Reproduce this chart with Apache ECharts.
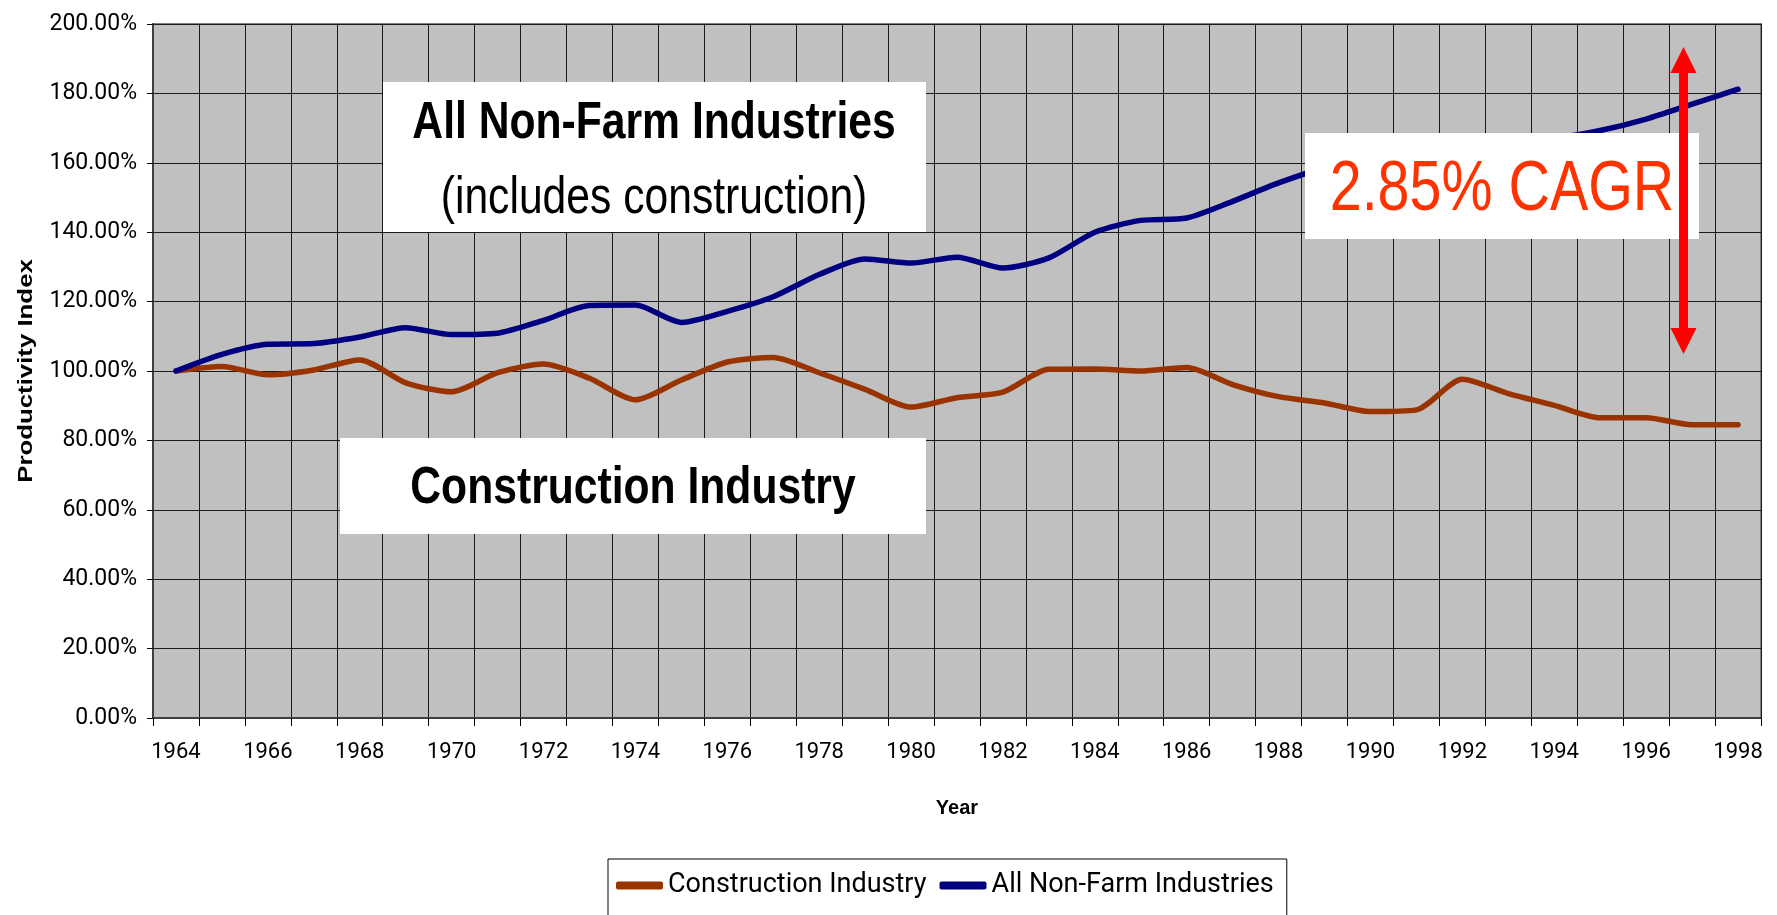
<!DOCTYPE html>
<html>
<head>
<meta charset="utf-8">
<title>Productivity Index</title>
<script src="https://cdn.jsdelivr.net/npm/echarts@6/dist/echarts.min.js"></script>
<style>
    html, body { margin: 0; padding: 0; background: #ffffff; }
    #chart { width: 1777px; height: 915px; }
</style>
</head>
<body>
<div id="chart"></div>
<script>
// Years on the category axis
const years = [
    '1964', '1965', '1966', '1967', '1968', '1969', '1970', '1971', '1972', '1973',
    '1974', '1975', '1976', '1977', '1978', '1979', '1980', '1981', '1982', '1983',
    '1984', '1985', '1986', '1987', '1988', '1989', '1990', '1991', '1992', '1993',
    '1994', '1995', '1996', '1997', '1998'
];

// Productivity index, percent of 1964
const construction = [
    100.0, 101.3, 98.9, 100.3, 103.2, 96.6, 94.0, 99.5, 102.0, 97.9,
    91.7, 97.4, 102.6, 103.9, 99.5, 94.7, 89.6, 92.3, 93.9, 100.5,
    100.6, 100.0, 101.0, 96.1, 92.6, 90.8, 88.3, 88.8, 97.6, 93.5,
    90.1, 86.5, 86.5, 84.5, 84.5
];
const nonFarm = [
    100.0, 104.8, 107.7, 107.9, 109.8, 112.5, 110.5, 110.9, 114.6, 118.9,
    119.0, 114.0, 117.2, 121.4, 127.8, 132.3, 131.1, 132.8, 129.7, 132.6,
    140.0, 143.4, 144.1, 148.9, 154.2, 158.5, 160.0, 161.0, 164.5, 165.5,
    167.0, 169.3, 172.6, 176.9, 181.2
];

// Y axis ticks
const yMin = 0;
const yMax = 200;
const yStep = 20;

const LABEL_FONT = "Roboto, 'Liberation Sans', sans-serif";
const PLAIN = "'Liberation Sans', Arial, sans-serif";
// Arial Narrow look: Liberation Sans squeezed horizontally
const NARROW_SCALE = 0.82;

document.addEventListener("DOMContentLoaded", function () {
    const chart = echarts.init(document.getElementById("chart"), null, { renderer: 'canvas' });

    // helper for the annotation texts
    function note(x, y, text, font, color, scaleX, rotation) {
        return {
            type: 'text',
            z: 101,
            x: x,
            y: y,
            scaleX: scaleX,
            rotation: rotation || 0,
            style: {
                x: 0, y: 0, text: text,
                textAlign: 'center', textVerticalAlign: 'middle',
                font: font, fill: color
            }
        };
    }

    const option = {
        animation: false,
        backgroundColor: '#ffffff',
        grid: {
            left: 153,
            right: 16,
            top: 24,
            bottom: 197,
            show: true,
            backgroundColor: '#c0c0c0',
            borderColor: '#808080',
            borderWidth: 2
        },
        legend: {
            left: 608,
            top: 859,
            padding: [13, 13, 40, 8],
            itemGap: 13,
            itemWidth: 47,
            itemHeight: 8,
            icon: 'roundRect',
            backgroundColor: '#ffffff',
            borderColor: '#000000',
            borderWidth: 1,
            textStyle: { fontFamily: LABEL_FONT, fontSize: 27, color: '#000000' },
            data: ['Construction Industry', 'All Non-Farm Industries']
        },
        xAxis: {
            type: 'category',
            data: years,
            boundaryGap: true,
            name: 'Year',
            nameLocation: 'middle',
            nameGap: 80,
            nameTextStyle: { fontFamily: PLAIN, fontWeight: 'bold', fontSize: 20, color: '#000000' },
            axisLine: { show: true, lineStyle: { color: '#404040', width: 2 } },
            axisTick: { show: true, interval: 0, length: 8, lineStyle: { color: '#000000' } },
            axisLabel: {
                interval: 1,
                margin: 23,
                fontFamily: LABEL_FONT,
                fontSize: 22,
                color: '#000000'
            },
            splitLine: { show: true, interval: 0, lineStyle: { color: '#1a1a1a', width: 1 } }
        },
        yAxis: {
            type: 'value',
            min: yMin,
            max: yMax,
            interval: yStep,
            axisLine: { show: true, lineStyle: { color: '#404040', width: 2 } },
            axisTick: { show: true, length: 6, lineStyle: { color: '#000000' } },
            axisLabel: {
                margin: 16,
                fontFamily: LABEL_FONT,
                fontSize: 23,
                color: '#000000',
                formatter: v => v.toFixed(2) + '%'
            },
            splitLine: { show: true, lineStyle: { color: '#1a1a1a', width: 1 } }
        },
        series: [
            {
                name: 'Construction Industry',
                type: 'line',
                data: construction,
                smooth: 0.25,
                symbol: 'none',
                color: '#993300',
                lineStyle: { color: '#993300', width: 5.5, cap: 'round', join: 'round' },
                z: 3
            },
            {
                name: 'All Non-Farm Industries',
                type: 'line',
                data: nonFarm,
                smooth: 0.25,
                symbol: 'none',
                color: '#000080',
                lineStyle: { color: '#000080', width: 5.5, cap: 'round', join: 'round' },
                z: 3
            }
        ],
        graphic: [
            // y axis title
            note(26, 371, 'Productivity Index', 'bold 20px ' + PLAIN, '#000000', 1.29, Math.PI / 2),
            // label boxes
            { type: 'rect', z: 100, shape: { x: 383, y: 82, width: 543, height: 150 }, style: { fill: '#ffffff' } },
            note(654, 124, 'All Non-Farm Industries', 'bold 52px ' + PLAIN, '#000000', NARROW_SCALE),
            note(654, 199, '(includes construction)', '52px ' + PLAIN, '#000000', NARROW_SCALE),
            { type: 'rect', z: 100, shape: { x: 340, y: 438, width: 586, height: 96 }, style: { fill: '#ffffff' } },
            note(633, 489, 'Construction Industry', 'bold 52px ' + PLAIN, '#000000', NARROW_SCALE),
            { type: 'rect', z: 100, shape: { x: 1305, y: 133, width: 394, height: 106 }, style: { fill: '#ffffff' } },
            note(1502, 191, '2.85% CAGR', '70px ' + PLAIN, '#ff3300', NARROW_SCALE),
            // double headed arrow
            { type: 'rect', z: 102, shape: { x: 1679, y: 70, width: 9, height: 262 }, style: { fill: '#ff0000' } },
            { type: 'polygon', z: 102, shape: { points: [[1683.5, 47], [1670.5, 73], [1696.5, 73]] }, style: { fill: '#ff0000' } },
            { type: 'polygon', z: 102, shape: { points: [[1683.5, 354], [1670.5, 328], [1696.5, 328]] }, style: { fill: '#ff0000' } }
        ]
    };

    chart.setOption(option);

    window.addEventListener('resize', function () {
        chart.resize();
    });
});
</script>
</body>
</html>
